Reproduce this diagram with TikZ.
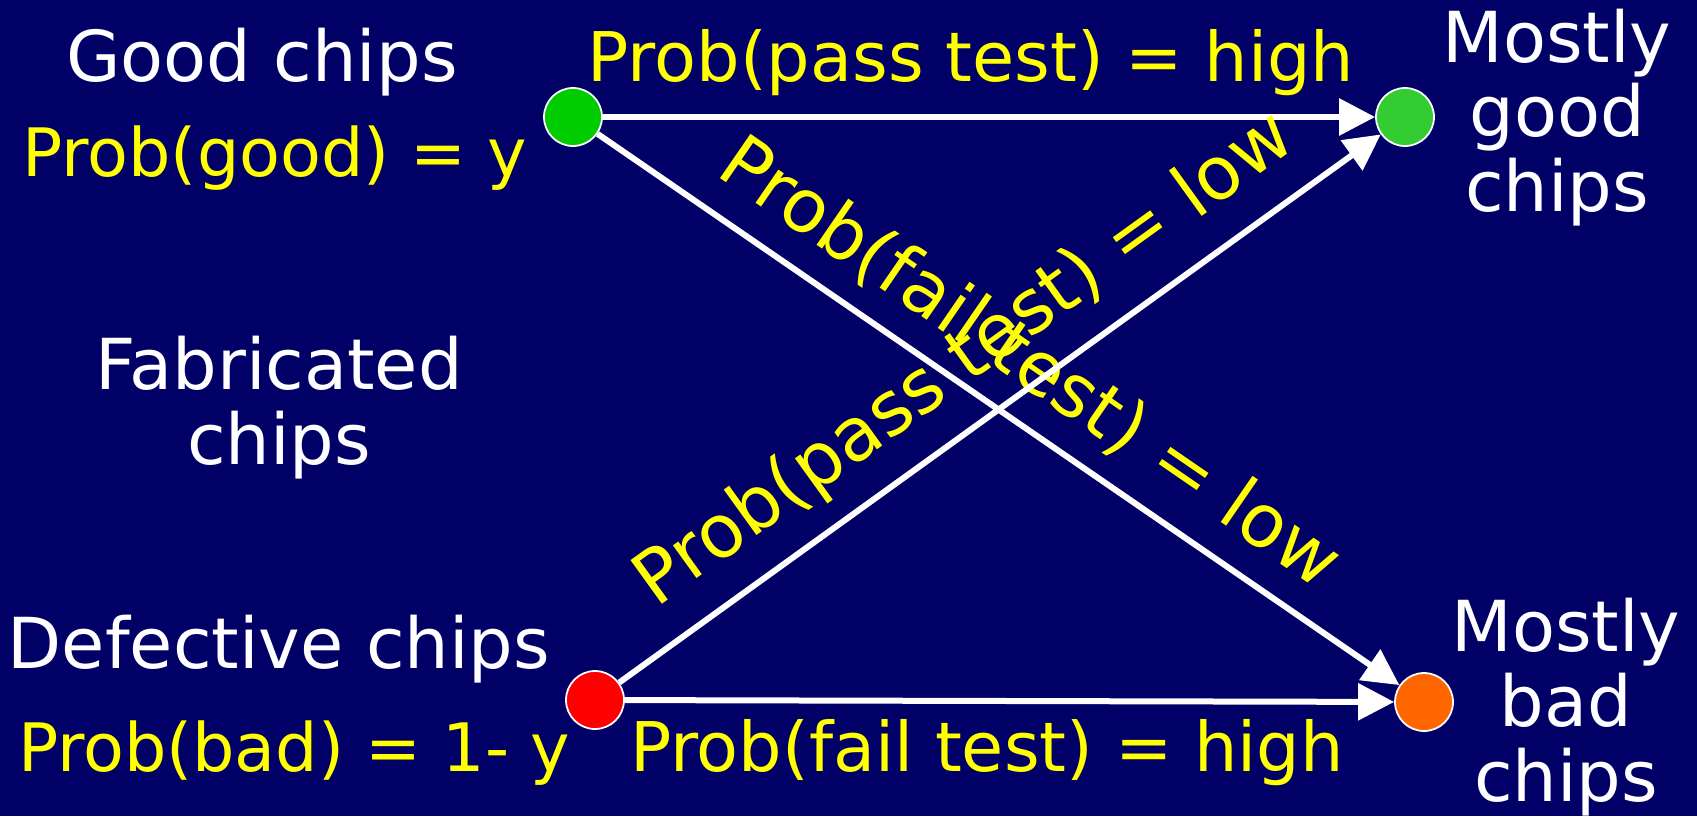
\documentclass[tikz,border=0pt]{standalone}
\usepackage{fontspec}
\setmainfont{DejaVu Sans}
\usepackage{xcolor}
\usepackage{tikz}
\usetikzlibrary{arrows.meta, positioning}
\definecolor{mynavy}{RGB}{0,0,102}
\definecolor{myyellow}{RGB}{255,255,0}
\definecolor{mygreen}{RGB}{0,204,0}
\definecolor{mylime}{RGB}{51,204,51}
\definecolor{myred}{RGB}{255,0,0}
\definecolor{myorange}{RGB}{255,102,0}
\tikzset{
  dot/.style={circle, draw=white, line width=0.5pt,
    minimum size=0.58cm, inner sep=0pt},
  whitetxt/.style={text=white, font=\fontsize{20pt}{21.3pt}\selectfont,
    align=center, inner sep=0pt},
  probtxt/.style={text=myyellow, font=\fontsize{19pt}{21.3pt}\selectfont,
    inner sep=0pt},
  testtxt/.style={probtxt, font=\fontsize{19.5pt}{21.3pt}\selectfont},
  slopetxt/.style={probtxt, font=\fontsize{21pt}{24pt}\selectfont},
  arrow/.style={-{Triangle[length=0.36cm, width=0.36cm]}, line width=0.06cm, color=white}
}

\begin{document}
\begin{tikzpicture}
  % Background
  \fill[mynavy] (0,0) rectangle (16.97,8.16);
  \useasboundingbox (0,0) rectangle (16.97,8.16);
  % Dots
  \node[dot, fill=mygreen] (good) at (5.73,6.99) {};
  \node[dot, fill=myred] (bad) at (5.95,1.16) {};
  \node[dot, fill=mylime] (goodout) at (14.05,6.99) {};
  \node[dot, fill=myorange] (badout) at (14.24,1.14) {};
  % Left labels
  \node[whitetxt, anchor=base] (goodlbl) at (2.62,7.35) {Good chips};
  \node[probtxt, anchor=base] (goodprob) at (2.75,6.40) {Prob(good) = y};
  \node[whitetxt] (fablbl) at (2.79,4.08) {Fabricated\\chips};
  \node[whitetxt, anchor=base] (badlbl) at (2.79,1.48) {Defective chips};
  \node[probtxt, anchor=base] (badprob) at (2.94,0.45) {Prob(bad) = 1- y};
  % Right labels
  \node[whitetxt] (goodoutlbl) at (15.57,6.985) {Mostly\\good\\chips};
  \node[whitetxt] (badoutlbl) at (15.66,1.09) {Mostly\\bad\\chips};
  % Test labels
  \node[testtxt, anchor=base] (passhigh) at (9.71,7.35) {Prob(pass test) = high};
  \node[testtxt, anchor=base] (failhigh) at (9.87,0.45) {Prob(fail test) = high};
  % Arrows
  \draw[arrow] (good) -- (goodout);
  \draw[arrow] (bad) -- (badout);
  \draw[arrow] (good) -- node[slopetxt, sloped, above=0.2cm] (faillow) {Prob(fail test) = low} (badout);
  \draw[arrow] (bad) -- node[slopetxt, sloped, above=0.2cm] (passlow) {Prob(pass test) = low} (goodout);
\end{tikzpicture}
\end{document}
